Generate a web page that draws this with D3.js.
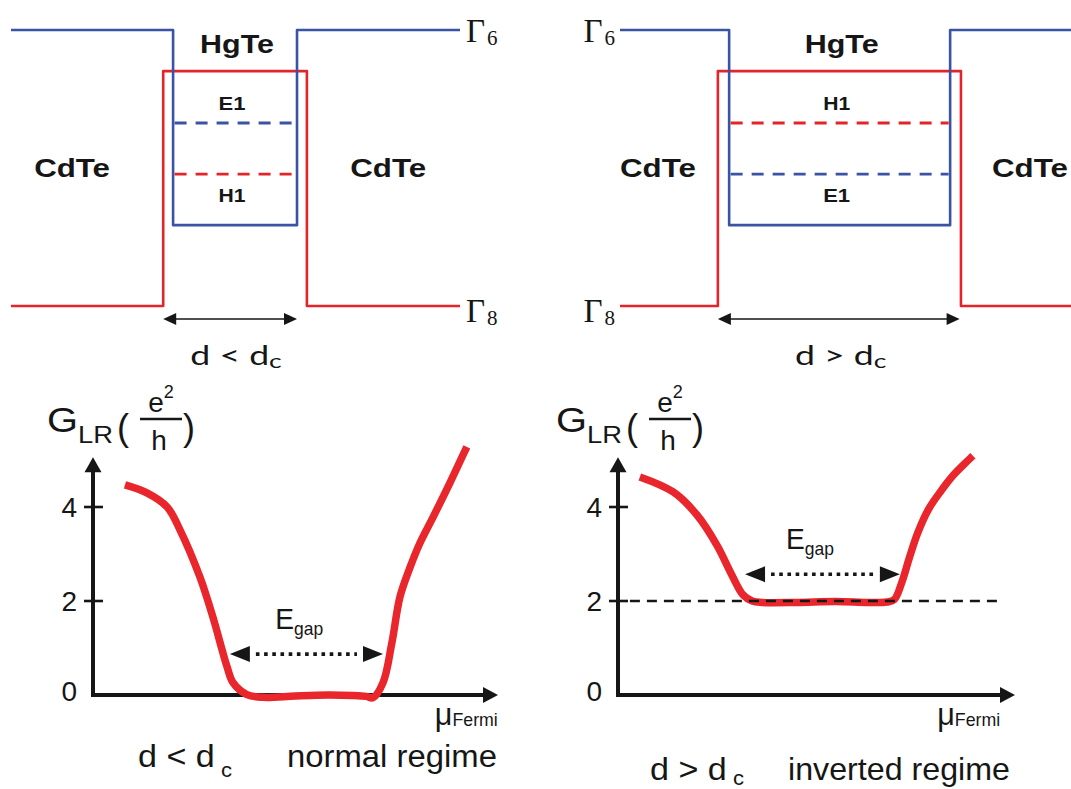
<!DOCTYPE html>
<html>
<head>
<meta charset="utf-8">
<script src="https://cdn.jsdelivr.net/npm/d3@7"></script>
<style>
  html, body { margin: 0; padding: 0; background: #fff; }
  svg { display: block; }
</style>
</head>
<body>
<svg id="fig" width="1071" height="789"></svg>
<script>
// ---------- Band-edge profiles of the CdTe / HgTe / CdTe quantum well ----------
// Energies: 0 = Γ8 edge in CdTe, 1 = Γ6 edge in CdTe.
const gamma6Barrier = 1.0;
const gamma6Well = 0.293;
const gamma8Barrier = 0.0;
const gamma8Well = 0.851;
const upperSubband = 0.663;
const lowerSubband = 0.478;
// Well edges along the growth direction (0–100 across each panel): [normal, inverted]
const gamma6Edges = [[36.1, 63.7], [24.2, 73.2]];
const gamma8Edges = [[33.9, 65.9], [21.7, 75.6]];
const widthArrowSpan = [[33.9, 63.7], [21.7, 75.3]];
const upperSubbandName = ["E1", "H1"];
const lowerSubbandName = ["H1", "E1"];
const cdteLabelPos = [[13.6, 84.0], [8.4, 90.9]];
const widthRelation = ["d < d", "d > d"];

// ---------- Two-terminal conductance G_LR vs. Fermi energy ----------
const muNormal = [7.9, 13.3, 18.3, 21.5, 26.4, 29.6, 33.1, 34.6, 38.0, 42.0, 50.0, 58.0, 64.0, 67.5, 69.1, 71.6, 73.8, 75.8, 78.3, 80.7, 84.0, 88.1, 92.3];
const gNormal  = [4.47, 4.30, 4.00, 3.51, 2.51, 1.66, 0.60, 0.26, 0.01, -0.05, -0.02, 0.00, -0.01, -0.03, -0.06, 0.26, 1.11, 2.09, 2.72, 3.23, 3.79, 4.51, 5.28];
const muInverted = [5.5, 13.9, 19.9, 24.9, 28.7, 31.5, 33.8, 36.3, 45.0, 55.0, 63.0, 67.8, 69.6, 71.5, 73.5, 75.5, 78.2, 81.0, 84.5, 89.4];
const gInverted  = [4.64, 4.32, 3.83, 3.19, 2.55, 2.13, 2.00, 1.97, 1.97, 1.99, 1.97, 1.98, 2.03, 2.40, 2.95, 3.45, 3.95, 4.30, 4.68, 5.09];
const yTicks = [0, 2, 4];
const quantizedLevel = 2;
const gapEdgesNormal = [33.8, 71.6];
const gapEdgesInverted = [32.0, 71.0];
const gapArrowLevel = [0.87, 2.57];
const regimeNames = ["normal regime", "inverted regime"];

// ---------- styling ----------
const SANS = "'Liberation Sans', Arial, Helvetica, sans-serif";
const SERIF = "'Liberation Serif', 'Times New Roman', serif";
const HUMAN = "Lato, 'Open Sans', sans-serif";
const INK = "#161616";
const BLUE = "#3a53a5";
const RED = "#e3242b";
const CURVE = "#e8262b";

const svg = d3.select("#fig");

// Text made of runs (subscripts / superscripts); optionally stretched to a width.
function richText(parent, x, y, parts, o) {
  const g = parent.append("g").attr("transform", `translate(${x},${y})`);
  const t = g.append("text")
    .attr("text-anchor", o.anchor || "start")
    .attr("font-family", o.family || SANS)
    .attr("font-weight", o.weight || "normal")
    .attr("fill", o.fill || INK);
  let prev = 0;
  parts.forEach(p => {
    const s = p.shift || 0;
    t.append("tspan")
      .attr("font-size", p.size)
      .attr("dy", s - prev)
      .attr("dx", p.dx || 0)
      .text(p.text);
    prev = s;
  });
  if (o.width) {
    const w = t.node().getBBox().width;
    if (w > 0) t.attr("transform", `scale(${o.width / w},1)`);
  }
  return t;
}

// Filled triangular arrow head with its tip at (x, y)
function arrowHead(parent, x, y, dir, len, half, fill) {
  let pts;
  if (dir === "right") pts = [[x, y], [x - len, y - half], [x - len, y + half]];
  else if (dir === "left") pts = [[x, y], [x + len, y - half], [x + len, y + half]];
  else pts = [[x, y], [x - half, y + len], [x + half, y + len]];
  parent.append("path").attr("d", "M" + pts.join("L") + "Z").attr("fill", fill || INK);
}

// ================= Band diagrams =================
const bandY = d3.scaleLinear().domain([0, 1]).range([306, 30]);
const bandX = [
  d3.scaleLinear().domain([0, 100]).range([11, 460]),
  d3.scaleLinear().domain([0, 100]).range([620, 1071])
];
const bandLine = (xs) => d3.line().x(d => xs(d[0])).y(d => bandY(d[1]));

[0, 1].forEach(i => {
  const xs = bandX[i];
  const g = svg.append("g");
  const [a6, b6] = gamma6Edges[i];
  const [a8, b8] = gamma8Edges[i];

  // Γ8 edge: raised inside HgTe
  g.append("path")
    .attr("d", bandLine(xs)([[0, gamma8Barrier], [a8, gamma8Barrier], [a8, gamma8Well], [b8, gamma8Well], [b8, gamma8Barrier], [100, gamma8Barrier]]))
    .attr("fill", "none").attr("stroke", RED).attr("stroke-width", 2.6).attr("stroke-linejoin", "round");
  // Γ6 edge: lowered inside HgTe
  g.append("path")
    .attr("d", bandLine(xs)([[0, gamma6Barrier], [a6, gamma6Barrier], [a6, gamma6Well], [b6, gamma6Well], [b6, gamma6Barrier], [100, gamma6Barrier]]))
    .attr("fill", "none").attr("stroke", BLUE).attr("stroke-width", 2.6).attr("stroke-linejoin", "round");

  // Sub-band levels
  const upperColor = upperSubbandName[i] === "E1" ? BLUE : RED;
  const lowerColor = lowerSubbandName[i] === "E1" ? BLUE : RED;
  [[upperSubband, upperColor], [lowerSubband, lowerColor]].forEach(([lv, c]) => {
    g.append("line")
      .attr("x1", xs(a6) + 1.5).attr("x2", xs(b6) - 1.5)
      .attr("y1", bandY(lv)).attr("y2", bandY(lv))
      .attr("stroke", c).attr("stroke-width", 2.8).attr("stroke-dasharray", "12,9");
  });

  const mid = (a6 + b6) / 2;
  richText(g, xs(mid) + 2, 53, [{ text: "HgTe", size: 25 }], { anchor: "middle", weight: "bold", width: 74 });
  richText(g, xs(mid) - 3, 110, [{ text: upperSubbandName[i], size: 18 }], { anchor: "middle", weight: "bold", width: 27 });
  richText(g, xs(mid) - 3, 202, [{ text: lowerSubbandName[i], size: 18 }], { anchor: "middle", weight: "bold", width: 27 });
  cdteLabelPos[i].forEach(p => {
    richText(g, xs(p), 177, [{ text: "CdTe", size: 25 }], { anchor: "middle", weight: "bold", width: 76 });
  });

  // Γ labels at the outer ends of the band edges
  const gx = i === 0 ? xs(100) + 6 : xs(0) - 5;
  const anchor = i === 0 ? "start" : "end";
  richText(g, gx, 42, [{ text: "Γ", size: 33 }, { text: "6", size: 21, shift: 3, dx: 2 }], { anchor, family: SERIF });
  richText(g, gx, 322, [{ text: "Γ", size: 33 }, { text: "8", size: 21, shift: 3, dx: 2 }], { anchor, family: SERIF });

  // Well width arrow
  const [w0, w1] = widthArrowSpan[i];
  const ay = bandY(0) + 13;
  g.append("line").attr("x1", xs(w0) + 8).attr("x2", xs(w1) - 8).attr("y1", ay).attr("y2", ay)
    .attr("stroke", INK).attr("stroke-width", 1.6);
  arrowHead(g, xs(w0), ay, "left", 13, 6);
  arrowHead(g, xs(w1), ay, "right", 13, 6);

  richText(g, xs(mid) + 1, 365,
    [{ text: widthRelation[i].replace("<", "< ").replace(">", "> "), size: 27 }, { text: "c", size: 20, shift: 3 }],
    { anchor: "middle", family: HUMAN, width: 92 });
});

// ================= Conductance plots =================
const plotX = [
  d3.scaleLinear().domain([0, 100]).range([93, 498]),
  d3.scaleLinear().domain([0, 100]).range([618, 1015])
];
const plotY = d3.scaleLinear().domain([0, 5]).range([695, 460]);
const mus = [muNormal, muInverted];
const gs = [gNormal, gInverted];
const gapEdges = [gapEdgesNormal, gapEdgesInverted];

[0, 1].forEach(i => {
  const xs = plotX[i];
  const g = svg.append("g");
  const x0 = xs(0), y0 = plotY(0);

  // Axis with tick labels
  const axis = d3.axisLeft(plotY).tickValues(yTicks).tickSize(0).tickPadding(16).tickFormat(d3.format("d"));
  const ag = g.append("g").attr("transform", `translate(${x0},0)`).call(axis);
  ag.select(".domain").remove();
  ag.attr("font-size", null).attr("font-family", null);
  ag.selectAll("text").attr("font-family", SANS).attr("font-size", 28).attr("fill", INK)
    .attr("dy", d => d === 0 ? "0.2em" : "0.35em");
  // Tick marks crossing the axis
  g.selectAll("line.tick").data(yTicks.filter(v => v > 0)).join("line")
    .attr("x1", x0 - 9).attr("x2", x0 + 10)
    .attr("y1", d => plotY(d)).attr("y2", d => plotY(d))
    .attr("stroke", INK).attr("stroke-width", 2.6);

  // Axis lines with arrow heads
  const yTip = plotY(5.06);
  g.append("line").attr("x1", x0).attr("x2", x0).attr("y1", y0 + 2).attr("y2", yTip + 12)
    .attr("stroke", INK).attr("stroke-width", 4);
  arrowHead(g, x0, yTip, "up", 15, 8.5);
  const xTip = xs(100);
  g.append("line").attr("x1", x0 - 2).attr("x2", xTip - 12).attr("y1", y0).attr("y2", y0)
    .attr("stroke", INK).attr("stroke-width", 4);
  arrowHead(g, xTip, y0, "right", 15, 8);

  // Conductance curve
  const pts = mus[i].map((m, k) => [m, gs[i][k]]);
  g.append("path")
    .attr("d", d3.line().x(d => xs(d[0])).y(d => plotY(d[1])).curve(d3.curveCatmullRom.alpha(0.5))(pts))
    .attr("fill", "none").attr("stroke", CURVE).attr("stroke-width", 7.5)
    .attr("stroke-linejoin", "round");

  // Quantized 2e²/h reference in the inverted regime
  if (i === 1) {
    g.append("line")
      .attr("x1", xs(3)).attr("x2", xs(96))
      .attr("y1", plotY(quantizedLevel)).attr("y2", plotY(quantizedLevel))
      .attr("stroke", INK).attr("stroke-width", 2.4).attr("stroke-dasharray", "10,7");
  }

  // Gap arrow
  const [e0, e1] = gapEdges[i];
  const gy = plotY(gapArrowLevel[i]);
  g.append("line").attr("x1", xs(e0) + 26).attr("x2", xs(e1) - 26).attr("y1", gy).attr("y2", gy)
    .attr("stroke", INK).attr("stroke-width", 3.6).attr("stroke-dasharray", "3.6,4.6");
  arrowHead(g, xs(e0), gy, "left", 20, 8);
  arrowHead(g, xs(e1), gy, "right", 20, 8);
  const ex = i === 0 ? xs(45) : xs(42.3);
  const ey = gy - 25;
  richText(g, ex, ey, [{ text: "E", size: 29 }, { text: "gap", size: 18, shift: 6 }], { width: 48 });

  // x-axis label
  const mx = i === 0 ? xs(84.4) : xs(80.4);
  richText(g, mx, y0 + 30, [{ text: "μ", size: 31 }, { text: "Fermi", size: 18, shift: 1 }], { width: 63 });

  // y-axis label  G_LR (e²/h)
  const lx = i === 0 ? 47 : 556;
  const ly = 432;
  richText(g, lx, ly, [{ text: "G", size: 35 }, { text: "LR", size: 24, shift: 11 }], { width: 66 });
  richText(g, lx + 70, ly + 8, [{ text: "(", size: 36 }], {});
  const bc = lx + 114;
  g.append("line").attr("x1", bc - 21).attr("x2", bc + 21).attr("y1", ly - 13).attr("y2", ly - 13)
    .attr("stroke", INK).attr("stroke-width", 2.6);
  richText(g, bc, ly - 20, [{ text: "e", size: 28 }, { text: "2", size: 18, shift: -14 }], { anchor: "middle" });
  richText(g, bc - 2, ly + 18, [{ text: "h", size: 28 }], { anchor: "middle" });
  richText(g, lx + 136, ly + 8, [{ text: ")", size: 36 }], {});

  // Caption row
  const cy = i === 0 ? 767 : 780;
  const cx = i === 0 ? 138 : 650;
  richText(g, cx, cy, [{ text: widthRelation[i].replace("<", " < ").replace(">", " > ").replace(/\s+/g, " "), size: 31 }, { text: " c", size: 20, shift: i === 0 ? 10 : 5 }], { width: 94 });
  const rx = i === 0 ? 287 : 788;
  richText(g, rx, cy, [{ text: regimeNames[i], size: 31 }], { width: i === 0 ? 210 : 222 });
});
</script>
</body>
</html>
